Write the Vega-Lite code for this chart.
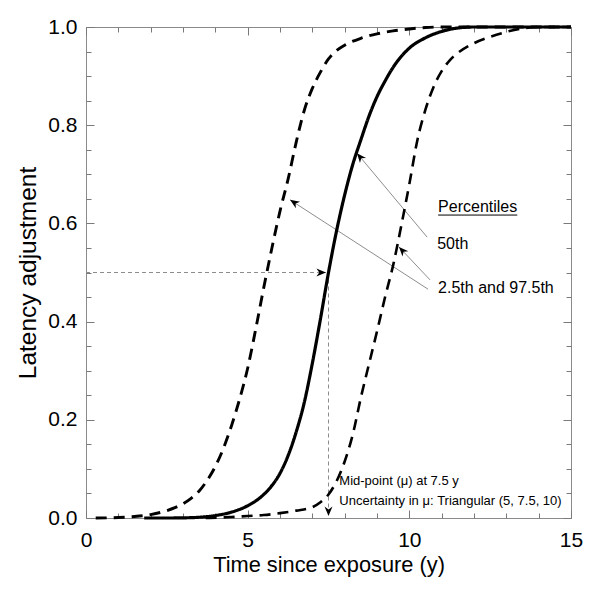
{
  "$schema": "https://vega.github.io/schema/vega-lite/v6.json",
  "width": 485,
  "height": 491,
  "autosize": {"type": "none"},
  "padding": {"left": 86, "top": 27, "right": 29, "bottom": 78},
  "background": "white",
  "config": {
    "font": "Liberation Sans",
    "view": {"stroke": "#8a8a8a", "strokeWidth": 1},
    "axis": {"domain": false, "grid": false, "tickColor": "#7a7a7a", "tickWidth": 1, "labelColor": "black", "titleColor": "black", "titleFontWeight": "normal", "labelFont": "Liberation Sans", "titleFont": "Liberation Sans"}
  },
  "datasets": {
    "curves": [
      {"t": 1.8, "adj": 0, "pct": "50th"},
      {"t": 2.5, "adj": 0, "pct": "50th"},
      {"t": 3.0, "adj": 0.0003, "pct": "50th"},
      {"t": 3.5, "adj": 0.0015, "pct": "50th"},
      {"t": 4.0, "adj": 0.005, "pct": "50th"},
      {"t": 4.5, "adj": 0.012, "pct": "50th"},
      {"t": 5.0, "adj": 0.025, "pct": "50th"},
      {"t": 5.5, "adj": 0.048, "pct": "50th"},
      {"t": 5.75, "adj": 0.066, "pct": "50th"},
      {"t": 6.0, "adj": 0.091, "pct": "50th"},
      {"t": 6.25, "adj": 0.127, "pct": "50th"},
      {"t": 6.5, "adj": 0.175, "pct": "50th"},
      {"t": 6.75, "adj": 0.235, "pct": "50th"},
      {"t": 7.0, "adj": 0.315, "pct": "50th"},
      {"t": 7.25, "adj": 0.405, "pct": "50th"},
      {"t": 7.5, "adj": 0.5, "pct": "50th"},
      {"t": 7.75, "adj": 0.585, "pct": "50th"},
      {"t": 8.0, "adj": 0.658, "pct": "50th"},
      {"t": 8.25, "adj": 0.72, "pct": "50th"},
      {"t": 8.5, "adj": 0.77, "pct": "50th"},
      {"t": 8.75, "adj": 0.818, "pct": "50th"},
      {"t": 9.0, "adj": 0.858, "pct": "50th"},
      {"t": 9.25, "adj": 0.89, "pct": "50th"},
      {"t": 9.5, "adj": 0.918, "pct": "50th"},
      {"t": 9.75, "adj": 0.94, "pct": "50th"},
      {"t": 10.0, "adj": 0.957, "pct": "50th"},
      {"t": 10.5, "adj": 0.978, "pct": "50th"},
      {"t": 11.0, "adj": 0.991, "pct": "50th"},
      {"t": 11.5, "adj": 0.998, "pct": "50th"},
      {"t": 12.0, "adj": 1.0, "pct": "50th"},
      {"t": 13.0, "adj": 1.0, "pct": "50th"},
      {"t": 15.0, "adj": 1.0, "pct": "50th"},

      {"t": 0.3, "adj": 0, "pct": "2.5th"},
      {"t": 1.0, "adj": 0.001, "pct": "2.5th"},
      {"t": 1.5, "adj": 0.003, "pct": "2.5th"},
      {"t": 2.0, "adj": 0.007, "pct": "2.5th"},
      {"t": 2.5, "adj": 0.015, "pct": "2.5th"},
      {"t": 2.75, "adj": 0.021, "pct": "2.5th"},
      {"t": 3.0, "adj": 0.029, "pct": "2.5th"},
      {"t": 3.25, "adj": 0.04, "pct": "2.5th"},
      {"t": 3.5, "adj": 0.055, "pct": "2.5th"},
      {"t": 3.75, "adj": 0.077, "pct": "2.5th"},
      {"t": 4.0, "adj": 0.105, "pct": "2.5th"},
      {"t": 4.25, "adj": 0.142, "pct": "2.5th"},
      {"t": 4.5, "adj": 0.188, "pct": "2.5th"},
      {"t": 4.75, "adj": 0.242, "pct": "2.5th"},
      {"t": 5.0, "adj": 0.305, "pct": "2.5th"},
      {"t": 5.25, "adj": 0.385, "pct": "2.5th"},
      {"t": 5.5, "adj": 0.47, "pct": "2.5th"},
      {"t": 5.75, "adj": 0.55, "pct": "2.5th"},
      {"t": 6.0, "adj": 0.625, "pct": "2.5th"},
      {"t": 6.25, "adj": 0.69, "pct": "2.5th"},
      {"t": 6.5, "adj": 0.765, "pct": "2.5th"},
      {"t": 6.75, "adj": 0.83, "pct": "2.5th"},
      {"t": 7.0, "adj": 0.875, "pct": "2.5th"},
      {"t": 7.25, "adj": 0.908, "pct": "2.5th"},
      {"t": 7.5, "adj": 0.935, "pct": "2.5th"},
      {"t": 7.75, "adj": 0.952, "pct": "2.5th"},
      {"t": 8.0, "adj": 0.963, "pct": "2.5th"},
      {"t": 8.5, "adj": 0.977, "pct": "2.5th"},
      {"t": 9.0, "adj": 0.986, "pct": "2.5th"},
      {"t": 9.5, "adj": 0.992, "pct": "2.5th"},
      {"t": 10.0, "adj": 0.996, "pct": "2.5th"},
      {"t": 10.5, "adj": 0.999, "pct": "2.5th"},
      {"t": 11.0, "adj": 1.0, "pct": "2.5th"},
      {"t": 15.0, "adj": 1.0, "pct": "2.5th"},

      {"t": 3.7, "adj": 0, "pct": "97.5th"},
      {"t": 4.5, "adj": 0.002, "pct": "97.5th"},
      {"t": 5.0, "adj": 0.004, "pct": "97.5th"},
      {"t": 5.5, "adj": 0.006, "pct": "97.5th"},
      {"t": 6.0, "adj": 0.01, "pct": "97.5th"},
      {"t": 6.5, "adj": 0.015, "pct": "97.5th"},
      {"t": 7.0, "adj": 0.022, "pct": "97.5th"},
      {"t": 7.25, "adj": 0.032, "pct": "97.5th"},
      {"t": 7.5, "adj": 0.048, "pct": "97.5th"},
      {"t": 7.75, "adj": 0.075, "pct": "97.5th"},
      {"t": 8.0, "adj": 0.115, "pct": "97.5th"},
      {"t": 8.25, "adj": 0.17, "pct": "97.5th"},
      {"t": 8.5, "adj": 0.245, "pct": "97.5th"},
      {"t": 8.75, "adj": 0.313, "pct": "97.5th"},
      {"t": 9.0, "adj": 0.38, "pct": "97.5th"},
      {"t": 9.25, "adj": 0.45, "pct": "97.5th"},
      {"t": 9.5, "adj": 0.515, "pct": "97.5th"},
      {"t": 9.75, "adj": 0.595, "pct": "97.5th"},
      {"t": 10.0, "adj": 0.68, "pct": "97.5th"},
      {"t": 10.25, "adj": 0.77, "pct": "97.5th"},
      {"t": 10.5, "adj": 0.832, "pct": "97.5th"},
      {"t": 10.75, "adj": 0.878, "pct": "97.5th"},
      {"t": 11.0, "adj": 0.91, "pct": "97.5th"},
      {"t": 11.25, "adj": 0.932, "pct": "97.5th"},
      {"t": 11.5, "adj": 0.947, "pct": "97.5th"},
      {"t": 12.0, "adj": 0.967, "pct": "97.5th"},
      {"t": 12.5, "adj": 0.98, "pct": "97.5th"},
      {"t": 13.0, "adj": 0.99, "pct": "97.5th"},
      {"t": 13.5, "adj": 0.997, "pct": "97.5th"},
      {"t": 14.0, "adj": 1.0, "pct": "97.5th"},
      {"t": 15.0, "adj": 1.0, "pct": "97.5th"}
    ],
    "guides": [
      {"x1": 0, "y1": 0.5, "x2": 7.42, "y2": 0.5},
      {"x1": 7.5, "y1": 0.5, "x2": 7.5, "y2": 0.006}
    ],
    "pointers": [
      {"x1": 10.55, "y1": 0.572, "x2": 8.38, "y2": 0.743},
      {"x1": 10.58, "y1": 0.466, "x2": 6.31, "y2": 0.648},
      {"x1": 10.64, "y1": 0.485, "x2": 9.68, "y2": 0.552}
    ],
    "heads": [
      {"x": 8.38, "y": 0.743, "angle": 230},
      {"x": 6.31, "y": 0.648, "angle": 213},
      {"x": 9.68, "y": 0.552, "angle": 227},
      {"x": 7.42, "y": 0.5, "angle": 0},
      {"x": 7.5, "y": 0.004, "angle": 90}
    ],
    "labels": [
      {"x": 10.89, "y": 0.633, "text": "Percentiles", "fs": 16},
      {"x": 10.86, "y": 0.559, "text": "50th", "fs": 16},
      {"x": 10.89, "y": 0.468, "text": "2.5th and 97.5th", "fs": 16},
      {"x": 7.835, "y": 0.0754, "text": "Mid-point (μ) at 7.5 y", "fs": 13},
      {"x": 7.835, "y": 0.035, "text": "Uncertainty in μ: Triangular (5, 7.5, 10)", "fs": 13}
    ],
    "underline": [
      {"x1": 10.89, "x2": 13.34, "y": 0.617}
    ]
  },
  "layer": [
    {
      "data": {"name": "guides"},
      "mark": {"type": "rule", "color": "#8c8c8c", "strokeWidth": 1, "strokeDash": [4, 3]},
      "encoding": {
        "x": {"field": "x1", "type": "quantitative", "scale": {"domain": [0, 15], "nice": false, "zero": false},
              "axis": {"orient": "bottom", "values": [0, 5, 10, 15], "tickSize": -8, "labels": false, "title": null}},
        "y": {"field": "y1", "type": "quantitative", "scale": {"domain": [0, 1], "nice": false},
              "axis": {"orient": "left", "values": [0, 0.2, 0.4, 0.6, 0.8, 1], "tickSize": -8, "labels": false, "title": null}},
        "x2": {"field": "x2"},
        "y2": {"field": "y2"}
      }
    },
    {
      "data": {"name": "pointers"},
      "mark": {"type": "rule", "color": "#808080", "strokeWidth": 0.9},
      "encoding": {
        "x": {"field": "x1", "type": "quantitative",
              "axis": {"orient": "bottom", "values": [1, 2, 3, 4, 6, 7, 8, 9, 11, 12, 13, 14], "tickSize": -5, "labels": false, "title": null}},
        "y": {"field": "y1", "type": "quantitative",
              "axis": {"orient": "left", "values": [0.05, 0.1, 0.15, 0.25, 0.3, 0.35, 0.45, 0.5, 0.55, 0.65, 0.7, 0.75, 0.85, 0.9, 0.95], "tickSize": -5, "labels": false, "title": null}},
        "x2": {"field": "x2"},
        "y2": {"field": "y2"}
      }
    },
    {
      "data": {"name": "curves"},
      "mark": {"type": "line", "interpolate": "monotone", "color": "black", "strokeCap": "butt"},
      "encoding": {
        "x": {"field": "t", "type": "quantitative",
              "axis": {"orient": "bottom", "values": [0, 5, 10, 15], "ticks": false, "labelFontSize": 21, "labelPadding": 11, "labelFlush": false, "labelOverlap": false,
                       "title": "Time since exposure (y)", "titleFontSize": 21.8, "titlePadding": 4}},
        "y": {"field": "adj", "type": "quantitative",
              "axis": {"orient": "left", "values": [0, 0.2, 0.4, 0.6, 0.8, 1], "format": ".1f", "ticks": false, "labelFontSize": 21, "labelPadding": 9, "labelFlush": false, "labelOverlap": false,
                       "title": "Latency adjustment", "titleFontSize": 24.5, "titlePadding": 7}},
        "strokeDash": {"field": "pct", "type": "nominal", "scale": {"domain": ["50th", "2.5th", "97.5th"], "range": [[1, 0], [11, 7], [11, 7]]}, "legend": null},
        "strokeWidth": {"field": "pct", "type": "nominal", "scale": {"domain": ["50th", "2.5th", "97.5th"], "range": [3.2, 2.6, 2.6]}, "legend": null}
      }
    },
    {
      "data": {"name": "heads"},
      "mark": {"type": "point", "shape": "M0,0L-1,-0.42L-0.7,0L-1,0.42Z", "filled": true, "color": "black", "opacity": 1, "size": 360, "strokeWidth": 0},
      "encoding": {
        "x": {"field": "x", "type": "quantitative",
              "axis": {"orient": "top", "values": [0, 5, 10, 15], "tickSize": -8, "labels": false, "title": null}},
        "y": {"field": "y", "type": "quantitative",
              "axis": {"orient": "right", "values": [0, 0.2, 0.4, 0.6, 0.8, 1], "tickSize": -8, "labels": false, "title": null}},
        "angle": {"field": "angle", "type": "quantitative", "scale": null}
      }
    },
    {
      "data": {"name": "labels"},
      "mark": {"type": "text", "align": "left", "baseline": "middle", "color": "black", "font": "Liberation Sans"},
      "encoding": {
        "x": {"field": "x", "type": "quantitative",
              "axis": {"orient": "top", "values": [1, 2, 3, 4, 6, 7, 8, 9, 11, 12, 13, 14], "tickSize": -5, "labels": false, "title": null}},
        "y": {"field": "y", "type": "quantitative",
              "axis": {"orient": "right", "values": [0.05, 0.1, 0.15, 0.25, 0.3, 0.35, 0.45, 0.5, 0.55, 0.65, 0.7, 0.75, 0.85, 0.9, 0.95], "tickSize": -5, "labels": false, "title": null}},
        "text": {"field": "text"},
        "size": {"field": "fs", "type": "quantitative", "scale": null}
      }
    },
    {
      "data": {"name": "underline"},
      "mark": {"type": "rule", "color": "black", "strokeWidth": 1},
      "encoding": {
        "x": {"field": "x1", "type": "quantitative", "axis": null},
        "x2": {"field": "x2"},
        "y": {"field": "y", "type": "quantitative", "axis": null}
      }
    }
  ],
  "resolve": {"axis": {"x": "independent", "y": "independent"}}
}
